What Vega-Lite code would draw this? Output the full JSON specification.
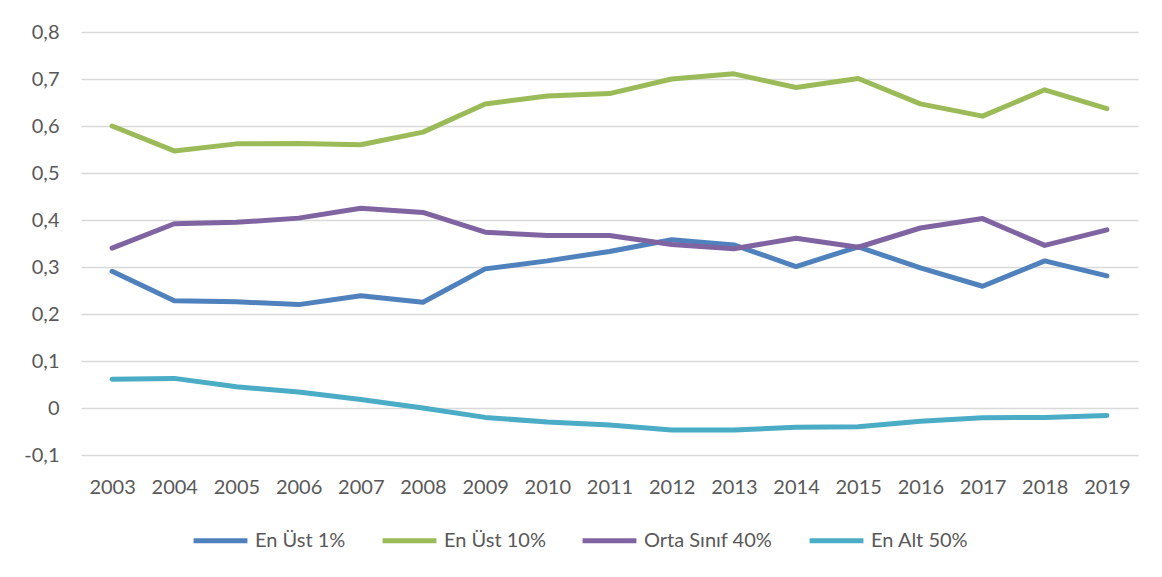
{
  "$schema": "https://vega.github.io/schema/vega-lite/v6.json",
  "width": 1057,
  "height": 423,
  "autosize": {"type": "none"},
  "padding": {"left": 81, "top": 32, "right": 24, "bottom": 122},
  "background": "white",
  "data": {"values": [
    {"year": "2003", "group": "En Üst 1%", "value": 0.291},
    {"year": "2004", "group": "En Üst 1%", "value": 0.228},
    {"year": "2005", "group": "En Üst 1%", "value": 0.226},
    {"year": "2006", "group": "En Üst 1%", "value": 0.220},
    {"year": "2007", "group": "En Üst 1%", "value": 0.239},
    {"year": "2008", "group": "En Üst 1%", "value": 0.225},
    {"year": "2009", "group": "En Üst 1%", "value": 0.296},
    {"year": "2010", "group": "En Üst 1%", "value": 0.313},
    {"year": "2011", "group": "En Üst 1%", "value": 0.333},
    {"year": "2012", "group": "En Üst 1%", "value": 0.358},
    {"year": "2013", "group": "En Üst 1%", "value": 0.347},
    {"year": "2014", "group": "En Üst 1%", "value": 0.301},
    {"year": "2015", "group": "En Üst 1%", "value": 0.343},
    {"year": "2016", "group": "En Üst 1%", "value": 0.298},
    {"year": "2017", "group": "En Üst 1%", "value": 0.259},
    {"year": "2018", "group": "En Üst 1%", "value": 0.313},
    {"year": "2019", "group": "En Üst 1%", "value": 0.281},
    {"year": "2003", "group": "En Üst 10%", "value": 0.600},
    {"year": "2004", "group": "En Üst 10%", "value": 0.547},
    {"year": "2005", "group": "En Üst 10%", "value": 0.562},
    {"year": "2006", "group": "En Üst 10%", "value": 0.563},
    {"year": "2007", "group": "En Üst 10%", "value": 0.560},
    {"year": "2008", "group": "En Üst 10%", "value": 0.587},
    {"year": "2009", "group": "En Üst 10%", "value": 0.647},
    {"year": "2010", "group": "En Üst 10%", "value": 0.664},
    {"year": "2011", "group": "En Üst 10%", "value": 0.669},
    {"year": "2012", "group": "En Üst 10%", "value": 0.700},
    {"year": "2013", "group": "En Üst 10%", "value": 0.711},
    {"year": "2014", "group": "En Üst 10%", "value": 0.682},
    {"year": "2015", "group": "En Üst 10%", "value": 0.701},
    {"year": "2016", "group": "En Üst 10%", "value": 0.647},
    {"year": "2017", "group": "En Üst 10%", "value": 0.621},
    {"year": "2018", "group": "En Üst 10%", "value": 0.677},
    {"year": "2019", "group": "En Üst 10%", "value": 0.637},
    {"year": "2003", "group": "Orta Sınıf 40%", "value": 0.340},
    {"year": "2004", "group": "Orta Sınıf 40%", "value": 0.392},
    {"year": "2005", "group": "Orta Sınıf 40%", "value": 0.395},
    {"year": "2006", "group": "Orta Sınıf 40%", "value": 0.404},
    {"year": "2007", "group": "Orta Sınıf 40%", "value": 0.425},
    {"year": "2008", "group": "Orta Sınıf 40%", "value": 0.416},
    {"year": "2009", "group": "Orta Sınıf 40%", "value": 0.374},
    {"year": "2010", "group": "Orta Sınıf 40%", "value": 0.367},
    {"year": "2011", "group": "Orta Sınıf 40%", "value": 0.367},
    {"year": "2012", "group": "Orta Sınıf 40%", "value": 0.348},
    {"year": "2013", "group": "Orta Sınıf 40%", "value": 0.339},
    {"year": "2014", "group": "Orta Sınıf 40%", "value": 0.361},
    {"year": "2015", "group": "Orta Sınıf 40%", "value": 0.342},
    {"year": "2016", "group": "Orta Sınıf 40%", "value": 0.383},
    {"year": "2017", "group": "Orta Sınıf 40%", "value": 0.403},
    {"year": "2018", "group": "Orta Sınıf 40%", "value": 0.346},
    {"year": "2019", "group": "Orta Sınıf 40%", "value": 0.379},
    {"year": "2003", "group": "En Alt 50%", "value": 0.061},
    {"year": "2004", "group": "En Alt 50%", "value": 0.063},
    {"year": "2005", "group": "En Alt 50%", "value": 0.045},
    {"year": "2006", "group": "En Alt 50%", "value": 0.034},
    {"year": "2007", "group": "En Alt 50%", "value": 0.018},
    {"year": "2008", "group": "En Alt 50%", "value": 0.000},
    {"year": "2009", "group": "En Alt 50%", "value": -0.020},
    {"year": "2010", "group": "En Alt 50%", "value": -0.030},
    {"year": "2011", "group": "En Alt 50%", "value": -0.036},
    {"year": "2012", "group": "En Alt 50%", "value": -0.047},
    {"year": "2013", "group": "En Alt 50%", "value": -0.047},
    {"year": "2014", "group": "En Alt 50%", "value": -0.041},
    {"year": "2015", "group": "En Alt 50%", "value": -0.040},
    {"year": "2016", "group": "En Alt 50%", "value": -0.028},
    {"year": "2017", "group": "En Alt 50%", "value": -0.021},
    {"year": "2018", "group": "En Alt 50%", "value": -0.020},
    {"year": "2019", "group": "En Alt 50%", "value": -0.016}
  ]},
  "mark": {"type": "line", "strokeWidth": 5, "strokeCap": "round", "strokeJoin": "round"},
  "encoding": {
    "x": {
      "field": "year", "type": "ordinal",
      "scale": {"type": "point", "padding": 0.5},
      "axis": {"title": null, "labelAngle": 0, "domain": false, "ticks": false, "grid": false, "labelPadding": 22}
    },
    "y": {
      "field": "value", "type": "quantitative",
      "scale": {"domain": [-0.1, 0.8], "nice": false, "zero": false},
      "axis": {
        "title": null, "domain": false, "ticks": false,
        "values": [-0.1, 0, 0.1, 0.2, 0.3, 0.4, 0.5, 0.6, 0.7, 0.8],
        "labelExpr": "abs(datum.value) < 1e-9 ? '0' : replace(replace(format(datum.value, '.1f'), '.', ','), '\u2212', '-')",
        "labelPadding": 22,
        "gridColor": "#d9d9d9", "gridWidth": 1.5
      }
    },
    "color": {
      "field": "group", "type": "nominal",
      "scale": {
        "domain": ["En Üst 1%", "En Üst 10%", "Orta Sınıf 40%", "En Alt 50%"],
        "range": ["#4f81bd", "#9bbb59", "#8064a2", "#4bacc6"]
      },
      "legend": {
        "title": null, "orient": "none", "direction": "horizontal",
        "legendX": 110, "legendY": 479,
        "symbolType": "stroke", "symbolSize": 2900, "symbolStrokeWidth": 5,
        "labelOffset": 5, "columnPadding": 26
      }
    }
  },
  "config": {
    "font": "Lato",
    "view": {"stroke": null},
    "axis": {"labelFont": "Lato", "labelFontSize": 20, "labelColor": "#595959"},
    "legend": {"labelFont": "Lato", "labelFontSize": 20, "labelColor": "#595959", "labelLimit": 300}
  }
}
